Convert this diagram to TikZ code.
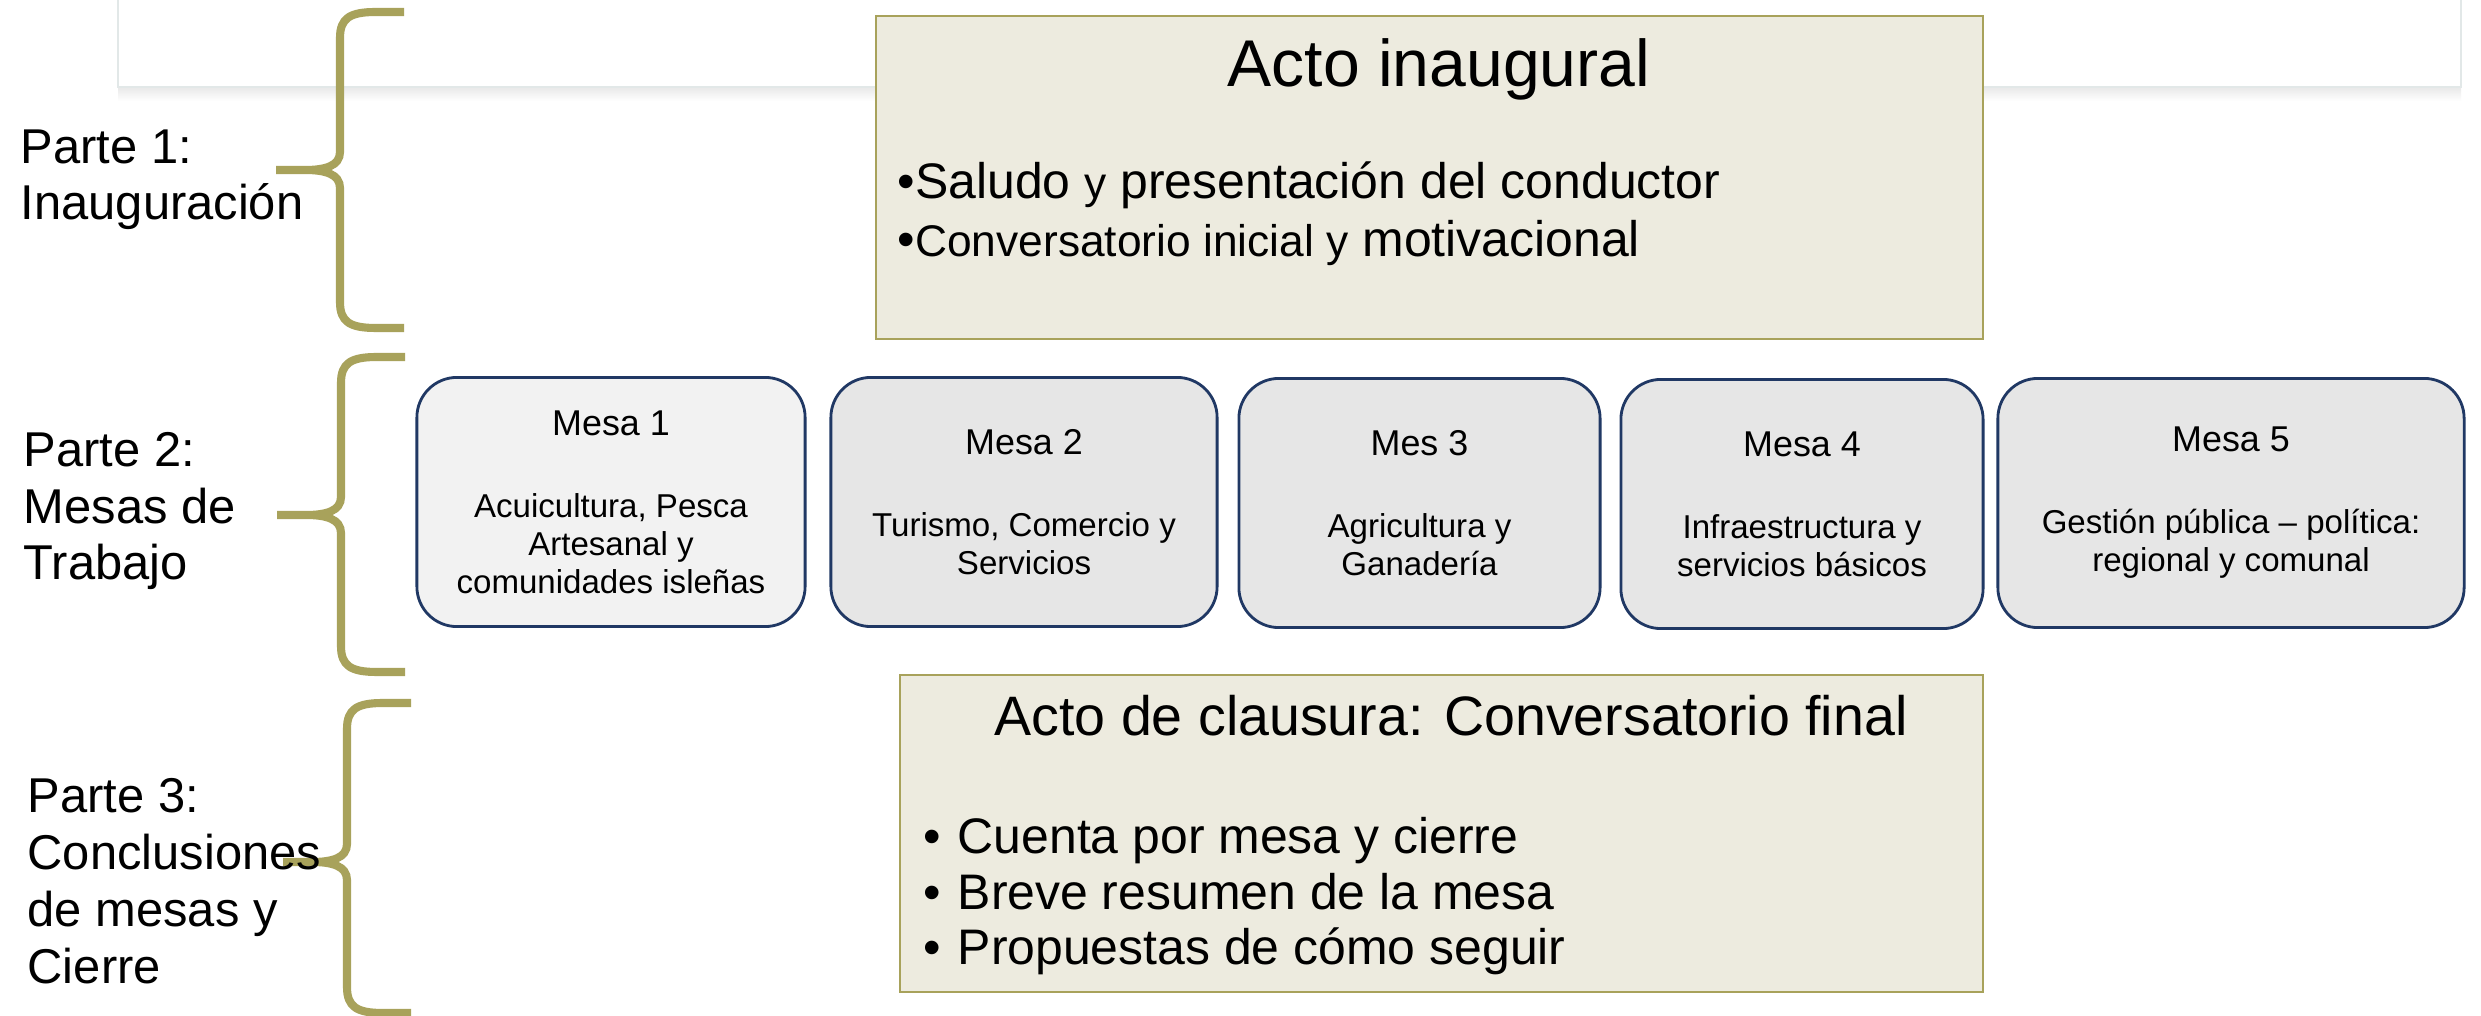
\documentclass[tikz,border=0pt]{standalone}
\usepackage{fontspec}
\setmainfont{Liberation Sans}
\definecolor{oliva}{HTML}{A8A25B}
\definecolor{beige}{HTML}{EDEBDF}
\definecolor{marino}{HTML}{203864}
\definecolor{gris1}{HTML}{F2F2F2}
\definecolor{gris2}{HTML}{E6E6E6}
\definecolor{panelborde}{HTML}{E2E8E8}
\newcommand{\fsz}[2]{\fontsize{#1}{#2}\selectfont}

\begin{document}
\begin{tikzpicture}[x=0.01cm,y=-0.01cm,
    llave/.style={draw=oliva,line width=2.3pt},
    acto/.style={draw=oliva,fill=beige,line width=0.6pt,inner sep=0pt},
    mesa/.style={draw=marino,fill=gris2,line width=0.8pt,rounded corners=0.4cm,
        minimum height=2.49cm,inner sep=0pt,align=center,font=\fsz{9.4}{10.8}},
    parte/.style={anchor=base west,align=left,inner sep=0pt,font=\fsz{13.9}{16.2}}]
    \useasboundingbox (0,0) rectangle (2481,1016);
    \fill[white] (0,0) rectangle (2481,1016);

    % panel de fondo
    \shade[top color=gray!18,bottom color=white] (118,87) rectangle (2461,101);
    \fill[white] (118,0) rectangle (2461,87);
    \draw[panelborde,line width=0.6pt] (118,0) -- (118,87) -- (2461,87) -- (2461,0);

    % llaves
    \foreach \xa/\ya/\ym/\yb in {340/12/170/328, 341/357/515/672, 347/703/862/1013}
      \draw[llave] (\xa+64,\ya) -- (\xa+36,\ya) .. controls (\xa+10,\ya) and (\xa,\ya+6) .. (\xa,\ya+26)
        -- (\xa,\ym-18) .. controls (\xa,\ym-4) and (\xa-15,\ym) .. (\xa-35,\ym) -- (\xa-64,\ym)
        (\xa-35,\ym) .. controls (\xa-15,\ym) and (\xa,\ym+4) .. (\xa,\ym+18)
        -- (\xa,\yb-26) .. controls (\xa,\yb-6) and (\xa+10,\yb) .. (\xa+36,\yb) -- (\xa+64,\yb);

    % base = ultima linea
    \node[parte] (parte1) at (20,220) {Parte 1:\\Inauguración};
    \node[parte] (parte2) at (23,580) {Parte 2:\\Mesas de\\Trabajo};
    \node[parte] (parte3) at (27,983) {Parte 3:\\Conclusiones\\de mesas y\\Cierre};

    % acto inaugural
    \node[acto,minimum width=11.07cm,minimum height=3.23cm] (inaug) at (1429.5,177.5) {};
    \node[anchor=base,inner sep=0pt,font=\fsz{18.8}{22}] (inaugtit) at (1439,87) {Acto inaugural};
    \node[anchor=base west,align=left,inner sep=0pt,font=\fsz{14.2}{16.5}] (inauglista) at (897,257)
      {•Saludo {\fsz{12.6}{16.5}y} presentación del conductor\\•{\fsz{12.6}{16.5}Conversatorio inicial y} motivacional};

    % mesas
    \node[mesa,fill=gris1,minimum width=3.88cm] (mesa1) at (611,502)
      {{\fsz{10.2}{12}Mesa 1}\\[12.5pt]Acuicultura, Pesca\\Artesanal y\\comunidades isleñas};
    \node[mesa,minimum width=3.86cm] (mesa2) at (1024,502)
      {{\fsz{10.2}{12}Mesa 2}\\[12.5pt]Turismo, Comercio y\\Servicios};
    \node[mesa,minimum width=3.61cm] (mesa3) at (1419.5,503)
      {{\fsz{10.2}{12}Mes 3}\\[12.5pt]Agricultura y\\Ganadería};
    \node[mesa,minimum width=3.62cm] (mesa4) at (1802,504)
      {{\fsz{10.2}{12}Mesa 4}\\[12.5pt]Infraestructura y\\servicios básicos};
    \node[mesa,minimum width=4.66cm] (mesa5) at (2231,503)
      {{\fsz{10.2}{12}Mesa 5}\\[12.5pt]Gestión pública – política:\\regional y comunal};

    % acto de clausura
    \node[acto,minimum width=10.83cm,minimum height=3.17cm] (clausura) at (1441.5,833.5) {};
    \node[anchor=base,inner sep=0pt,font=\fsz{15.8}{19}] (clausuratit) at (1451,736) {Acto de clausura: Conversatorio final};
    \node[anchor=base west,align=left,inner sep=0pt,font=\fsz{14.2}{15.9}] (clausuralista) at (923,965)
      {\makebox[0.34cm][l]{•}Cuenta por mesa y cierre\\\makebox[0.34cm][l]{•}Breve resumen de la mesa\\\makebox[0.34cm][l]{•}Propuestas de cómo seguir};
\end{tikzpicture}
\end{document}
